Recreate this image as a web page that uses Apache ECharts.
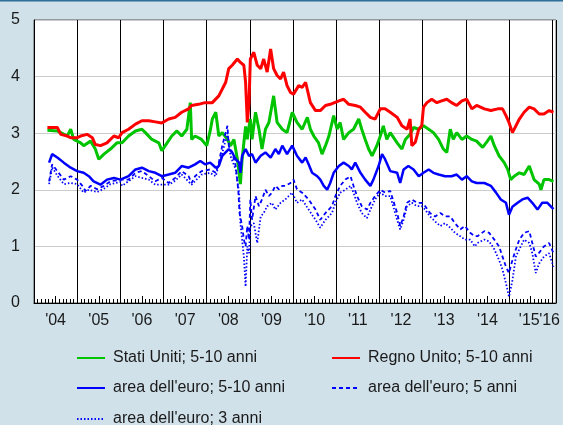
<!DOCTYPE html>
<html>
<head>
<meta charset="utf-8">
<script src="https://cdn.jsdelivr.net/npm/echarts@6/dist/echarts.min.js"></script>
<style>
  html, body { margin: 0; padding: 0; background: #d0e1ea; }
  #chart { width: 563px; height: 425px; }
</style>
</head>
<body>
<div id="chart"></div>
<script>
// Stati Uniti 5-10 anni
const usX = [2004.31, 2004.54, 2004.62, 2004.77, 2004.85, 2004.92, 2005.08, 2005.15, 2005.31, 2005.42, 2005.50, 2005.62, 2005.77, 2005.92,
  2006.04, 2006.19, 2006.35, 2006.50, 2006.58, 2006.73, 2006.89, 2006.96, 2007.04, 2007.19, 2007.31, 2007.42, 2007.54, 2007.62, 2007.65, 2007.73, 2007.88, 2008.00, 2008.08,
  2008.13, 2008.21, 2008.28, 2008.36, 2008.48, 2008.55, 2008.63, 2008.71, 2008.78, 2008.82, 2008.90, 2008.94, 2008.98, 2009.01, 2009.05, 2009.13, 2009.21, 2009.28, 2009.36, 2009.44, 2009.55, 2009.63, 2009.75, 2009.86, 2009.98, 2010.09,
  2010.21, 2010.33, 2010.40, 2010.48, 2010.59, 2010.67, 2010.75, 2010.83, 2010.94, 2011.02, 2011.09, 2011.17, 2011.29, 2011.40, 2011.52, 2011.59, 2011.67, 2011.75, 2011.83, 2011.94, 2012.02, 2012.09, 2012.17, 2012.25,
  2012.41, 2012.52, 2012.60, 2012.71, 2012.79, 2012.91, 2013.02, 2013.14, 2013.25, 2013.37, 2013.48, 2013.56, 2013.64, 2013.71, 2013.79, 2013.91, 2014.02, 2014.14, 2014.25,
  2014.39, 2014.50, 2014.58, 2014.66, 2014.77, 2014.89, 2014.97, 2015.04, 2015.12, 2015.24, 2015.35, 2015.47, 2015.58, 2015.70, 2015.74, 2015.81, 2015.93, 2016.03];
const usY = [3.05, 3.04, 3.01, 2.95, 3.07, 2.89, 2.83, 2.78, 2.86, 2.72, 2.54, 2.63, 2.72, 2.83,
  2.83, 2.95, 3.04, 3.07, 3.01, 2.89, 2.83, 2.69, 2.78, 2.95, 3.04, 2.95, 3.07, 3.54, 2.89, 2.95, 2.89, 2.78, 3.04,
  3.25, 3.37, 2.95, 3.01, 2.89, 2.78, 2.89, 2.54, 2.10, 2.54, 3.12, 2.89, 3.12, 3.25, 2.89, 3.37, 3.07, 2.72, 3.07, 3.19, 3.66, 3.19, 3.07, 3.01, 3.37, 3.19,
  3.07, 3.28, 3.07, 2.95, 2.83, 2.63, 2.78, 2.95, 3.31, 3.07, 3.19, 2.89, 3.01, 3.07, 3.25, 3.07, 2.89, 2.72, 2.60, 2.78, 2.95, 3.13, 2.89, 3.01,
  2.83, 2.72, 2.89, 2.98, 3.10, 3.07, 3.13, 3.07, 3.01, 2.89, 2.72, 2.66, 3.07, 2.89, 3.01, 2.89, 2.95, 2.89, 2.86,
  2.75, 2.86, 2.95, 2.78, 2.60, 2.48, 2.36, 2.18, 2.24, 2.30, 2.27, 2.42, 2.18, 2.10, 2.00, 2.18, 2.18, 2.15];

// Regno Unito 5-10 anni
const ukX = [2004.31, 2004.54, 2004.62, 2004.77, 2004.85, 2005.00, 2005.08, 2005.23, 2005.35, 2005.42, 2005.54, 2005.69, 2005.85, 2005.96,
  2006.04, 2006.19, 2006.35, 2006.50, 2006.66, 2006.81, 2006.96, 2007.12, 2007.27, 2007.42, 2007.58, 2007.65, 2007.81, 2007.96,
  2008.13, 2008.28, 2008.44, 2008.51, 2008.59, 2008.71, 2008.78, 2008.86, 2008.90, 2008.94, 2008.98, 2009.01, 2009.09, 2009.17, 2009.25, 2009.32, 2009.40, 2009.48, 2009.55, 2009.63, 2009.71, 2009.78, 2009.86, 2009.94, 2010.01, 2010.13,
  2010.21, 2010.29, 2010.40, 2010.52, 2010.63, 2010.75, 2010.86, 2011.06, 2011.17, 2011.29, 2011.44, 2011.56, 2011.67, 2011.79, 2011.90, 2012.02, 2012.13, 2012.25,
  2012.41, 2012.52, 2012.64, 2012.71, 2012.75, 2012.83, 2012.91, 2012.98, 2013.02, 2013.10, 2013.21, 2013.33, 2013.44, 2013.56, 2013.67, 2013.79, 2013.91, 2014.02, 2014.14, 2014.25,
  2014.43, 2014.58, 2014.74, 2014.85, 2014.93, 2015.00, 2015.08, 2015.16, 2015.24, 2015.35, 2015.47, 2015.58, 2015.70, 2015.81, 2015.93, 2016.03];
const ukY = [3.10, 3.10, 2.98, 2.95, 2.92, 2.92, 2.95, 2.98, 2.92, 2.80, 2.78, 2.83, 2.95, 2.92,
  3.01, 3.07, 3.16, 3.22, 3.22, 3.20, 3.18, 3.25, 3.28, 3.37, 3.43, 3.49, 3.51, 3.54,
  3.54, 3.66, 3.90, 4.14, 4.20, 4.31, 4.25, 4.20, 3.90, 3.19, 3.54, 4.31, 4.43, 4.20, 4.14, 4.31, 4.08, 4.49, 4.14, 4.02, 3.96, 4.08, 3.84, 3.72, 3.69, 3.84,
  3.81, 3.90, 3.54, 3.40, 3.40, 3.49, 3.51, 3.57, 3.60, 3.51, 3.49, 3.46, 3.37, 3.28, 3.25, 3.43, 3.43, 3.37,
  3.28, 3.13, 3.07, 3.25, 2.78, 2.84, 3.07, 3.13, 3.46, 3.54, 3.60, 3.54, 3.57, 3.60, 3.54, 3.49, 3.57, 3.60, 3.43, 3.49,
  3.43, 3.40, 3.43, 3.43, 3.31, 3.19, 3.01, 3.13, 3.25, 3.37, 3.46, 3.43, 3.34, 3.34, 3.40, 3.37];

// area dell'euro 5-10 anni
const ea10X = [2004.35, 2004.42, 2004.54, 2004.69, 2004.85, 2005.00, 2005.15, 2005.27, 2005.38, 2005.54, 2005.69, 2005.85, 2006.00,
  2006.19, 2006.35, 2006.50, 2006.66, 2006.81, 2006.96, 2007.12, 2007.27, 2007.42, 2007.58, 2007.73, 2007.85, 2007.96, 2008.08,
  2008.21, 2008.28, 2008.36, 2008.51, 2008.59, 2008.67, 2008.75, 2008.78, 2008.82, 2008.90, 2008.98, 2009.05, 2009.13, 2009.25, 2009.36, 2009.48, 2009.59, 2009.67, 2009.75, 2009.86, 2009.98, 2010.09,
  2010.21, 2010.29, 2010.36, 2010.44, 2010.56, 2010.63, 2010.71, 2010.79, 2010.86, 2010.94, 2011.06, 2011.17, 2011.29, 2011.36, 2011.44, 2011.56, 2011.67, 2011.79, 2011.86, 2011.98, 2012.06, 2012.13, 2012.25,
  2012.41, 2012.48, 2012.56, 2012.67, 2012.79, 2012.91, 2013.02, 2013.14, 2013.25, 2013.37, 2013.52, 2013.67, 2013.79, 2013.91, 2014.02, 2014.14, 2014.25,
  2014.43, 2014.58, 2014.70, 2014.81, 2014.93, 2015.00, 2015.08, 2015.20, 2015.31, 2015.43, 2015.54, 2015.66, 2015.77, 2015.89, 2016.03];
const ea10Y = [2.48, 2.63, 2.57, 2.48, 2.39, 2.33, 2.30, 2.24, 2.15, 2.09, 2.18, 2.21, 2.18,
  2.24, 2.36, 2.39, 2.33, 2.30, 2.24, 2.27, 2.30, 2.42, 2.39, 2.45, 2.51, 2.45, 2.48,
  2.39, 2.42, 2.60, 2.72, 2.66, 2.54, 2.48, 2.30, 2.60, 2.72, 2.60, 2.63, 2.48, 2.60, 2.66, 2.57, 2.72, 2.63, 2.78, 2.63, 2.78, 2.60,
  2.48, 2.57, 2.45, 2.30, 2.24, 2.18, 2.07, 2.00, 2.12, 2.30, 2.42, 2.48, 2.42, 2.36, 2.48, 2.30, 2.18, 2.07, 2.18, 2.42, 2.63, 2.54, 2.33,
  2.30, 2.12, 2.36, 2.42, 2.36, 2.24, 2.30, 2.36, 2.30, 2.27, 2.24, 2.24, 2.27, 2.18, 2.24, 2.15, 2.12,
  2.12, 2.07, 1.95, 1.83, 1.77, 1.56, 1.70, 1.77, 1.83, 1.86, 1.77, 1.65, 1.77, 1.77, 1.66];

// area dell'euro 5 anni
const ea5X = [2004.35, 2004.42, 2004.54, 2004.69, 2004.85, 2005.00, 2005.12, 2005.19, 2005.31, 2005.46, 2005.62, 2005.77, 2006.00,
  2006.19, 2006.35, 2006.50, 2006.66, 2006.81, 2006.96, 2007.12, 2007.27, 2007.42, 2007.58, 2007.65, 2007.73, 2007.88, 2008.08,
  2008.21, 2008.28, 2008.36, 2008.48, 2008.51, 2008.59, 2008.67, 2008.73, 2008.76, 2008.82, 2008.86, 2008.90, 2008.94, 2008.98, 2009.01, 2009.05, 2009.13, 2009.21, 2009.28, 2009.36, 2009.44, 2009.51, 2009.59, 2009.67, 2009.75, 2009.82, 2009.94, 2010.01, 2010.09,
  2010.21, 2010.36, 2010.52, 2010.63, 2010.75, 2010.90, 2010.98, 2011.09, 2011.21, 2011.33, 2011.40, 2011.48, 2011.59, 2011.71, 2011.79, 2011.90, 2012.02, 2012.13, 2012.25,
  2012.41, 2012.48, 2012.56, 2012.64, 2012.75, 2012.87, 2012.98, 2013.06, 2013.17, 2013.29, 2013.41, 2013.52, 2013.64, 2013.75, 2013.87, 2013.98, 2014.10, 2014.21,
  2014.27, 2014.43, 2014.54, 2014.66, 2014.77, 2014.85, 2014.93, 2015.00, 2015.08, 2015.16, 2015.24, 2015.35, 2015.47, 2015.54, 2015.62, 2015.70, 2015.81, 2015.93, 2016.03];
const ea5Y = [2.15, 2.45, 2.33, 2.18, 2.24, 2.18, 2.07, 1.98, 2.07, 2.01, 2.07, 2.15, 2.18,
  2.18, 2.30, 2.33, 2.24, 2.15, 2.21, 2.12, 2.21, 2.33, 2.24, 2.12, 2.24, 2.33, 2.36,
  2.30, 2.48, 2.78, 3.13, 2.78, 2.66, 2.42, 2.00, 1.59, 1.36, 1.12, 1.00, 1.36, 1.12, 1.83, 1.47, 1.89, 1.71, 1.83, 2.00, 1.89, 1.95, 2.07, 2.01, 2.07, 2.07, 2.12, 2.18, 2.01,
  1.95, 1.83, 1.65, 1.47, 1.59, 1.71, 1.89, 2.07, 2.18, 2.24, 2.07, 1.89, 1.71, 1.65, 1.77, 1.89, 2.00, 1.95, 1.98,
  1.59, 1.36, 1.53, 1.77, 1.83, 1.77, 1.77, 1.71, 1.59, 1.53, 1.59, 1.53, 1.53, 1.41, 1.30, 1.36, 1.24, 1.18,
  1.18, 1.27, 1.24, 1.12, 1.00, 0.82, 0.64, 0.53, 0.76, 0.95, 1.12, 1.24, 1.27, 1.06, 0.82, 0.89, 1.00, 1.06, 0.88];

// area dell'euro 3 anni
const ea3X = [2004.35, 2004.42, 2004.54, 2004.69, 2004.85, 2005.00, 2005.15, 2005.27, 2005.46, 2005.62, 2005.77, 2006.00,
  2006.04, 2006.35, 2006.66, 2006.81, 2007.12, 2007.27, 2007.42, 2007.65, 2007.88, 2008.08,
  2008.21, 2008.28, 2008.36, 2008.48, 2008.55, 2008.67, 2008.75, 2008.78, 2008.82, 2008.86, 2008.90, 2008.94, 2008.98, 2009.01, 2009.09, 2009.17, 2009.25, 2009.32, 2009.40, 2009.51, 2009.59, 2009.71, 2009.82, 2009.98, 2010.09,
  2010.21, 2010.36, 2010.52, 2010.63, 2010.75, 2010.90, 2010.98, 2011.09, 2011.21, 2011.33, 2011.40, 2011.48, 2011.59, 2011.71, 2011.79, 2011.90, 2012.02, 2012.13, 2012.25,
  2012.41, 2012.48, 2012.56, 2012.64, 2012.75, 2012.87, 2012.98, 2013.06, 2013.17, 2013.29, 2013.41, 2013.52, 2013.64, 2013.75, 2013.87, 2013.98, 2014.10, 2014.21,
  2014.27, 2014.43, 2014.54, 2014.66, 2014.77, 2014.85, 2014.93, 2015.00, 2015.08, 2015.16, 2015.24, 2015.35, 2015.47, 2015.54, 2015.62, 2015.70, 2015.81, 2015.93, 2016.03];
const ea3Y = [2.10, 2.40, 2.25, 2.10, 2.12, 2.10, 1.95, 2.00, 1.96, 2.02, 2.10, 2.14,
  2.07, 2.24, 2.18, 2.09, 2.09, 2.16, 2.27, 2.09, 2.27, 2.30,
  2.24, 2.45, 2.65, 3.00, 2.60, 2.36, 1.95, 1.41, 1.12, 0.82, 0.29, 1.00, 0.88, 1.36, 1.41, 1.06, 1.53, 1.59, 1.71, 1.77, 1.65, 1.77, 1.83, 1.95, 1.77,
  1.83, 1.65, 1.47, 1.33, 1.47, 1.59, 1.77, 1.95, 2.00, 2.07, 1.95, 1.77, 1.59, 1.50, 1.65, 1.83, 1.95, 1.89, 1.89,
  1.47, 1.30, 1.47, 1.71, 1.77, 1.71, 1.71, 1.65, 1.53, 1.44, 1.36, 1.41, 1.33, 1.24, 1.18, 1.12, 1.12, 1.00,
  1.06, 1.12, 1.09, 0.95, 0.76, 0.59, 0.35, 0.11, 0.40, 0.82, 0.95, 1.12, 1.06, 0.88, 0.53, 0.70, 0.82, 0.88, 0.64];

// year labels sit in the middle of each year; '16 is squeezed into the last month
const labelPos = [2004.5, 2005.5, 2006.5, 2007.5, 2008.5, 2009.5, 2010.5, 2011.5, 2012.5, 2013.5, 2014.5, 2015.47];
const labelText = ["'04", "'05", "'06", "'07", "'08", "'09", "'10", "'11", "'12", "'13", "'14", "'15"];
const lastLabelPos = [2015.94];
const lastLabelText = ["'16"];
const midYears = [2004.5, 2005.5, 2006.5, 2007.5, 2008.5, 2009.5, 2010.5, 2011.5, 2012.5, 2013.5, 2014.5, 2015.5];

const names = ["Stati Uniti; 5-10 anni", "Regno Unito; 5-10 anni", "area dell'euro; 5-10 anni", "area dell'euro; 5 anni", "area dell'euro; 3 anni"];

function zip(xs, ys) {
  return xs.map((x, i) => [x, ys[i]]);
}

const FONT = "Liberation Sans";
const chart = echarts.init(document.getElementById('chart'));

function legendAt(name, left, top) {
  return {
    data: [name],
    left: left,
    top: top,
    padding: 0,
    itemWidth: 28,
    itemHeight: 14,
    selectedMode: false,
    lineStyle: { width: 2 },
    itemStyle: { color: 'rgba(0,0,0,0)', borderWidth: 0, opacity: 0 },
    textStyle: { fontFamily: FONT, fontSize: 16, color: '#1a1a1a', padding: [0, 0, 0, 3] }
  };
}

function labelAxis(positions, texts) {
  return {
    type: 'value',
    position: 'bottom',
    min: 2004, max: 2016.09,
    axisLine: { show: false },
    axisTick: { show: false },
    axisLabel: {
      customValues: positions,
      showMinLabel: true,
      showMaxLabel: true,
      margin: 10,
      fontFamily: FONT, fontSize: 16, color: '#1a1a1a',
      formatter: v => {
        const i = positions.findIndex(p => Math.abs(p - v) < 0.001);
        return i >= 0 ? texts[i] : '';
      }
    },
    splitLine: { show: false }
  };
}

const yearAxis = labelAxis(labelPos, labelText);
yearAxis.axisTick = { show: true, inside: true, length: 7, customValues: midYears, lineStyle: { color: '#000' } };

chart.setOption({
  animation: false,
  backgroundColor: '#d0e1ea',
  graphic: [{
    type: 'rect',
    shape: { x: 0, y: 0, width: 563, height: 1.5 },
    style: { fill: '#2f6f98' }
  }],
  grid: {
    left: 34, right: 4, top: 20, bottom: 122,
    show: true, backgroundColor: '#fff', borderColor: '#555', borderWidth: 1
  },
  legend: [
    legendAt(names[0], 76, 350),
    legendAt(names[1], 331, 350),
    legendAt(names[2], 76, 380),
    legendAt(names[3], 331, 380),
    legendAt(names[4], 76, 411)
  ],
  xAxis: [{
    type: 'value',
    min: 2004, max: 2016.09, interval: 1,
    axisLine: { show: true, lineStyle: { color: '#000', width: 1 } },
    axisTick: { show: true, inside: true, length: 4, lineStyle: { color: '#000' } },
    minorTick: { show: true, splitNumber: 12, length: 4, lineStyle: { color: '#000' } },
    axisLabel: { show: false },
    splitLine: { show: true, lineStyle: { color: '#000', width: 1 } }
  },
  yearAxis,
  labelAxis(lastLabelPos, lastLabelText)
  ],
  yAxis: {
    type: 'value',
    min: 0, max: 5, interval: 1,
    axisLine: { show: true, lineStyle: { color: '#000', width: 1 } },
    axisTick: { show: false },
    axisLabel: { margin: 14, fontFamily: FONT, fontSize: 16, color: '#1a1a1a' },
    splitLine: { show: true, lineStyle: { color: '#cccccc', width: 1 } }
  },
  series: [
    { name: names[0], type: 'line', symbol: 'none', data: zip(usX, usY), lineStyle: { color: '#00c400', width: 3 }, itemStyle: { color: '#00c400' } },
    { name: names[1], type: 'line', symbol: 'none', data: zip(ukX, ukY), lineStyle: { color: '#ff0000', width: 3 }, itemStyle: { color: '#ff0000' } },
    { name: names[2], type: 'line', symbol: 'none', data: zip(ea10X, ea10Y), lineStyle: { color: '#0000ff', width: 2.5 }, itemStyle: { color: '#0000ff' } },
    { name: names[3], type: 'line', symbol: 'none', data: zip(ea5X, ea5Y), lineStyle: { color: '#0000ff', width: 1.8, type: [4, 3] }, itemStyle: { color: '#0000ff' } },
    { name: names[4], type: 'line', symbol: 'none', data: zip(ea3X, ea3Y), lineStyle: { color: '#0000ff', width: 1.8, type: [1.5, 2] }, itemStyle: { color: '#0000ff' } }
  ]
});
</script>
</body>
</html>
